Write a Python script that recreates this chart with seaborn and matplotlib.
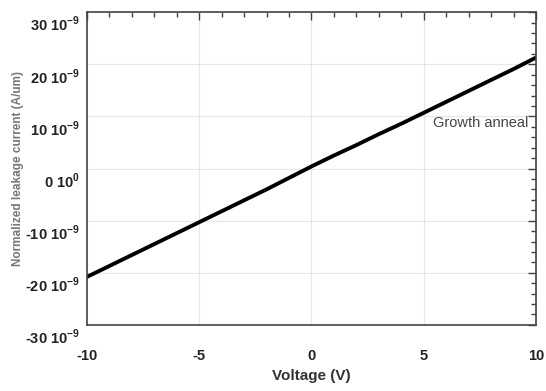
import numpy as np
import matplotlib
matplotlib.use("Agg")
import matplotlib.pyplot as plt
import seaborn as sns
from matplotlib.ticker import MultipleLocator, FixedLocator
from matplotlib.transforms import ScaledTranslation

# values (current in units of 1e-9 A/um)
voltage = [-10, -9, -8, -7, -6, -5, -4, -3, -2, -1, 0,
           1, 2, 3, 4, 5, 6, 7, 8, 9, 10]
current = [-20.8, -18.7, -16.6, -14.5, -12.4, -10.3, -8.2, -6.1, -4.0, -1.8, 0.4,
           2.5, 4.5, 6.6, 8.6, 10.7, 12.8, 14.9, 17.0, 19.1, 21.3]
y_ticks = [-30, -20, -10, 0, 10, 20, 30]
y_tick_labels = ["-30 10$^{-9}$", "-20 10$^{-9}$", "-10 10$^{-9}$", "0 10$^{0}$",
                 "10 10$^{-9}$", "20 10$^{-9}$", "30 10$^{-9}$"]
x_ticks = [-10, -5, 0, 5, 10]

sns.set_style("white")
plt.rcParams['font.family'] = ['Liberation Sans Narrow', 'Liberation Sans', 'DejaVu Sans']
plt.rcParams['mathtext.fontset'] = 'custom'
plt.rcParams['mathtext.rm'] = 'Liberation Sans:bold'

fig = plt.figure(figsize=(5.46, 3.91), dpi=100)
ax = fig.add_axes([0.159, 0.169, 0.823, 0.8])

sns.lineplot(x=voltage, y=current, color='black', linewidth=2.8, ax=ax)

ax.set_xlim(-10, 10)
ax.set_ylim(-30, 30)
ax.xaxis.set_major_locator(FixedLocator(x_ticks))
ax.xaxis.set_minor_locator(MultipleLocator(1))
ax.yaxis.set_major_locator(FixedLocator(y_ticks))
ax.yaxis.set_minor_locator(MultipleLocator(2))
ax.set_yticklabels(y_tick_labels)
ax.set_xticklabels([str(t) for t in x_ticks])

ax.grid(True, which='major', color='#e6e6e6', linewidth=0.8)
ax.tick_params(which='both', direction='in', top=True, right=True, color='#444444',
               labelsize=10.5, labelcolor='#222222')
ax.tick_params(which='major', length=6, width=1)
ax.tick_params(which='minor', length=3.5, width=1)
ax.tick_params(axis='x', which='major', pad=17)
ax.tick_params(axis='y', which='major', pad=5)
for lab in ax.get_xticklabels() + ax.get_yticklabels():
    lab.set_fontweight('bold')
# y labels sit a little below their ticks in the reference
shift = ScaledTranslation(0, -8 / 72, fig.dpi_scale_trans)
for t in ax.yaxis.get_major_ticks():
    t.label1.set_transform(t.label1.get_transform() + shift)
for s in ax.spines.values():
    s.set_color('#444444')
    s.set_linewidth(1.2)

ax.set_xlabel('Voltage (V)', fontsize=11, fontweight='bold', color='#333333', labelpad=5)
ax.set_ylabel('Normalized leakage current (A/um)', fontsize=8.5, fontweight='bold',
              color='#777777', labelpad=1)
ax.text(5.4, 8.0, 'Growth anneal', fontsize=10.5, color='#444444')

plt.savefig("out.png", dpi=100)
